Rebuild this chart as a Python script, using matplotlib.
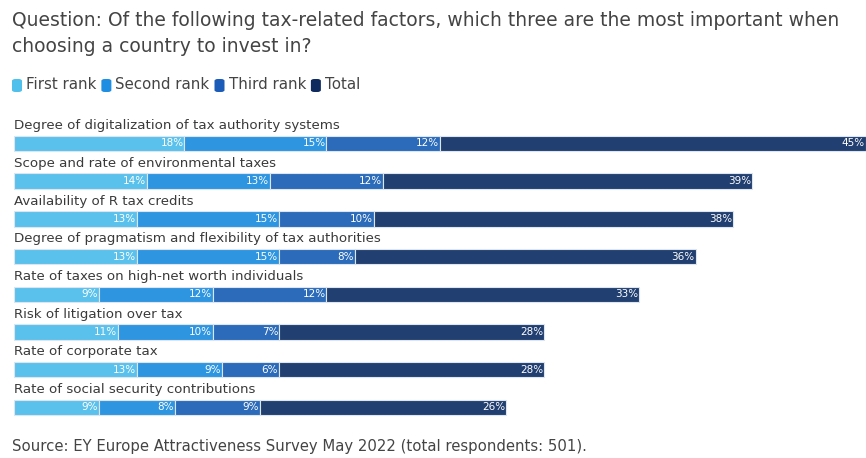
import matplotlib.pyplot as plt
from matplotlib.patches import FancyBboxPatch

plt.rcParams['font.family'] = ['DejaVu Sans']

categories = [
    'Degree of digitalization of tax authority systems',
    'Scope and rate of environmental taxes',
    'Availability of R tax credits',
    'Degree of pragmatism and flexibility of tax authorities',
    'Rate of taxes on high-net worth individuals',
    'Risk of litigation over tax',
    'Rate of corporate tax',
    'Rate of social security contributions',
]
first_rank = [18, 14, 13, 13, 9, 11, 13, 9]
second_rank = [15, 13, 15, 15, 12, 10, 9, 8]
third_rank = [12, 12, 10, 8, 12, 7, 6, 9]
total = [45, 39, 38, 36, 33, 28, 28, 26]

series_names = ['First rank', 'Second rank', 'Third rank', 'Total']
bar_colors = ['#5ac1ec', '#2e95e1', '#2b6bb9', '#213f70']
legend_colors = ['#4fc0ec', '#1e8ee3', '#1a5cb8', '#0e2a5e']

W, H = 866, 458
fig = plt.figure(figsize=(W / 100, H / 100), dpi=100)

# axes placed so that row 0 bar centre sits at ~143px, row spacing ~37.7px
top_px, bot_px = 112, 425
ax = fig.add_axes([14 / W, 1 - bot_px / H, (866 - 14) / W, (bot_px - top_px) / H])
row_h = 37.7
ax.set_ylim((bot_px - 143.5) / row_h, (top_px - 143.5) / row_h)
ax.set_xlim(0, 90)
ax.axis('off')

rows = range(len(categories))
left = [0] * len(categories)
for name, vals, col in zip(series_names, [first_rank, second_rank, third_rank, total], bar_colors):
    ax.barh(list(rows), vals, left=left, height=0.41, color=col,
            edgecolor='#dde6f0', linewidth=0.8)
    for i, v in enumerate(vals):
        ax.text(left[i] + v - 0.1, i, f'{v}%', ha='right', va='center',
                color='white', fontsize=7.5)
    left = [l + v for l, v in zip(left, vals)]

for i, cat in enumerate(categories):
    ax.text(0.05, i - 0.47, cat, ha='left', va='center', color='#3a3a3a', fontsize=9.6)

fig.text(12 / W, 1 - 21 / H,
         'Question: Of the following tax-related factors, which three are the most important when',
         ha='left', va='center', color='#444444', fontsize=13.5)
fig.text(12 / W, 1 - 46 / H, 'choosing a country to invest in?',
         ha='left', va='center', color='#444444', fontsize=13.5)

# legend drawn as rounded squares followed by labels
x_px = 12
for name, col in zip(series_names, legend_colors):
    fig.patches.append(FancyBboxPatch((x_px / W, 1 - 92 / H), 10 / W, 13 / H,
                                      boxstyle='round,pad=0,rounding_size=0.004',
                                      transform=fig.transFigure, facecolor=col,
                                      edgecolor='none'))
    t = fig.text((x_px + 14) / W, 1 - 85 / H, name, ha='left', va='center',
                 color='#444444', fontsize=10.8)
    fig.canvas.draw()
    bb = t.get_window_extent()
    x_px = bb.x1 + 5

fig.text(12 / W, 1 - 447 / H,
         'Source: EY Europe Attractiveness Survey May 2022 (total respondents: 501).',
         ha='left', va='center', color='#444444', fontsize=10.7)

fig.savefig('out.png', dpi=100)
